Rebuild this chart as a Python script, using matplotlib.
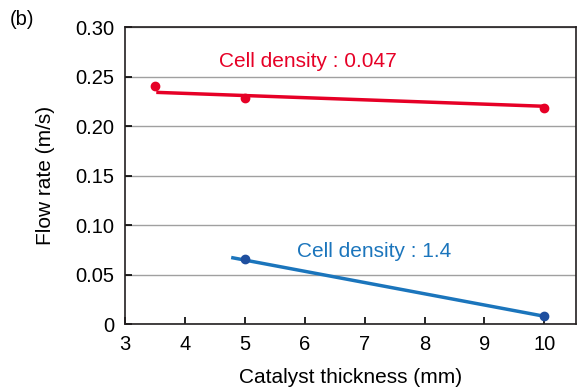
import matplotlib
matplotlib.use("Agg")
import matplotlib.pyplot as plt

# datos
thick_red = [3.5, 5, 10]
flow_red = [0.240, 0.228, 0.218]
fit_red_x = [3.55, 10]
fit_red_y = [0.234, 0.220]

thick_blue = [5, 10]
flow_blue = [0.066, 0.008]
fit_blue_x = [4.8, 10]
fit_blue_y = [0.067, 0.008]

red = "#e60026"
blue = "#1b75bc"
blue_dot = "#1f4f9f"

plt.rcParams["font.family"] = ["Liberation Sans", "DejaVu Sans"]

fig = plt.figure(figsize=(5.79, 3.92), dpi=100)
ax = fig.add_axes([0.216, 0.173, 0.779, 0.758])

ax.plot(fit_red_x, fit_red_y, color=red, lw=2.5, zorder=3)
ax.plot(thick_red, flow_red, "o", color=red, ms=6, zorder=4)
ax.plot(fit_blue_x, fit_blue_y, color=blue, lw=2.5, zorder=3)
ax.plot(thick_blue, flow_blue, "o", color=blue_dot, ms=6, zorder=4)

ax.text(6.06, 0.265, "Cell density : 0.047", color=red, fontsize=15, ha="center", va="center")
ax.text(7.16, 0.073, "Cell density : 1.4", color=blue, fontsize=15, ha="center", va="center")

ax.set_xlim(3, 10.53)
ax.set_ylim(0, 0.30)
ax.set_xticks([3, 4, 5, 6, 7, 8, 9, 10])
ax.set_yticks([0, 0.05, 0.10, 0.15, 0.20, 0.25, 0.30])
ax.set_yticklabels(["0", "0.05", "0.10", "0.15", "0.20", "0.25", "0.30"])
ax.tick_params(direction="in", labelsize=14.5, length=5, width=1.2, pad=8)
ax.yaxis.grid(True, color="#a0a0a0", lw=1)
ax.set_axisbelow(True)
for s in ax.spines.values():
    s.set_linewidth(1.2)
    s.set_color("#231f20")

ax.set_xlabel("Catalyst thickness (mm)", fontsize=15, labelpad=10)
ax.set_ylabel("Flow rate (m/s)", fontsize=15, labelpad=14)
fig.text(0.017, 0.935, "(b)", fontsize=14.5)

fig.savefig("out.png", dpi=100)
